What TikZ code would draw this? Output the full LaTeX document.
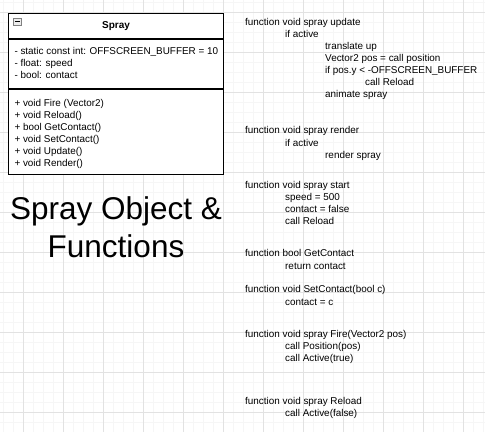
\documentclass[tikz,border=0pt]{standalone}
\usepackage{fontspec}
\setmainfont{Liberation Sans}
\usetikzlibrary{positioning}
\definecolor{gridmajor}{HTML}{E2E2E2}
\definecolor{gridminor}{HTML}{F6F6F6}
\tikzset{
  compart/.style={draw,line width=1pt,minimum width=215pt,inner sep=0pt},
  codeline/.style={anchor=base west,inner sep=0pt,font=\fontsize{9.9}{12}\selectfont},
}

\begin{document}
\begin{tikzpicture}[x=1pt,y=-1pt]
\useasboundingbox (0,0) rectangle (485,432);
\fill[white] (0,0) rectangle (485,432);
% grid
\foreach \x in {3.3,13.3,...,483.3} \draw[gridminor,line width=0.7pt] (\x,0) -- (\x,432);
\foreach \y in {2.3,12.3,...,432} \draw[gridminor,line width=0.7pt] (0,\y) -- (485,\y);
\foreach \x in {23.3,63.3,...,483.3} \draw[gridmajor,line width=0.8pt] (\x,0) -- (\x,432);
\foreach \y in {12.3,52.3,...,432} \draw[gridmajor,line width=0.8pt] (0,\y) -- (485,\y);

% class box
\node[compart,fill=white,minimum height=25.8pt,anchor=north west] (head) at (8,12.5) {};
\node[compart,fill=white,minimum height=48.4pt,below=0pt of head.south west,anchor=north west] (attrs) {};
\node[compart,fill=white,minimum height=85.3pt,below=0pt of attrs.south west,anchor=north west] (meths) {};
\node[font=\bfseries\fontsize{10}{12}\selectfont] (name) at (head.center) {Spray};
\node[draw=gray,fill=gray!15,line width=0.6pt,minimum width=8pt,minimum height=7pt,inner sep=0pt] (fold) at (17.3,21.7) {};
\draw[line width=0.9pt] ([xshift=1.8pt]fold.west) -- ([xshift=-1.8pt]fold.east);

\foreach \txt [count=\n] in {- static const int: OFFSCREEN\_BUFFER = 10,- float: speed,- bool: contact}
  \node[codeline] (attr\n) at (14.3,38.7+12*\n+3.5) {\txt};
\foreach \txt [count=\n] in {+ void Fire (Vector2),+ void Reload(),+ bool GetContact(),+ void SetContact(),+ void Update(),+ void Render()}
  \node[codeline] (meth\n) at (14.3,90.7+12*\n+3.5) {\txt};

% heading
\node[anchor=base,inner sep=0pt,font=\fontsize{31.5}{38}\selectfont] (heading1) at (116,219.3) {Spray Object \&};
\node[anchor=base,inner sep=0pt,font=\fontsize{31.5}{38}\selectfont] (heading2) at (116,257.3) {Functions};

% pseudo code
\foreach \y/\lvl/\txt [count=\n] in
  {22.3/0/function void spray update,34/1/if active,45.7/2/translate up,
   57.7/2/Vector2 pos = call position,69.7/2/if pos.y < -OFFSCREEN\_BUFFER,
   81.7/3/call Reload,93.7/2/animate spray,
   130.3/0/function void spray render,142.7/1/if active,154.7/2/render spray,
   185/0/function void spray start,196.7/1/speed = 500,208.7/1/contact = false,220.7/1/call Reload,
   253.3/0/function bool GetContact,266/1/return contact,
   289.3/0/function void SetContact(bool c),301.7/1/contact = c,
   334/0/function void spray Fire(Vector2 pos),345.7/1/call Position(pos),357.7/1/call Active(true),
   400.7/0/function void spray Reload,412.7/1/call Active(false)}
  \node[codeline] (code\n) at (245+40*\lvl,\y+3.5) {\txt};
\end{tikzpicture}
\end{document}
